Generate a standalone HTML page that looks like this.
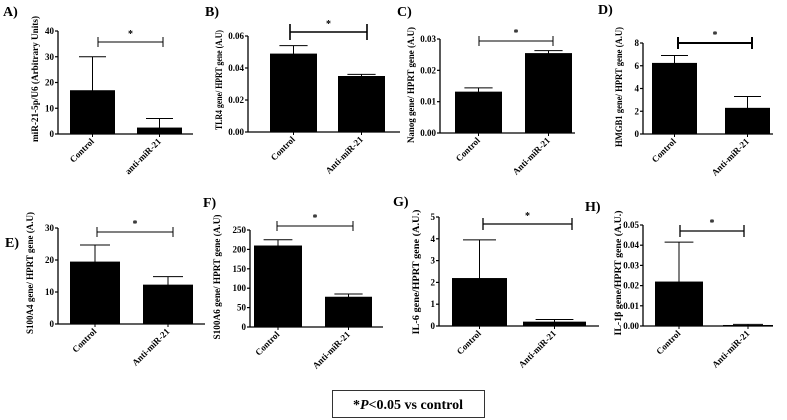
<!DOCTYPE html>
<html><head><meta charset="utf-8"><style>
body{margin:0;background:#fff;}
svg{display:block;font-family:"Liberation Serif",serif;font-weight:bold;}
</style></head><body>
<svg id="fig" width="787" height="420" viewBox="0 0 787 420"></svg>
<script>
// ---- data ----
const categoriesA = ["Control","anti-miR-21"];
const meansA = [17, 2.5];
const errsA = [30, 6];
const ticksA = ["0","10","20","30","40"];

const categoriesB = ["Control","Anti-miR-21"];
const meansB = [0.049, 0.035];
const errsB = [0.054, 0.036];
const ticksB = ["0.00","0.02","0.04","0.06"];

const categoriesC = ["Control","Anti-miR-21"];
const meansC = [0.0132, 0.0255];
const errsC = [0.0144, 0.0263];
const ticksC = ["0.00","0.01","0.02","0.03"];

const categoriesD = ["Control","Anti-miR-21"];
const meansD = [6.25, 2.3];
const errsD = [6.9, 3.3];
const ticksD = ["0","2","4","6","8"];

const categoriesE = ["Control","Anti-miR-21"];
const meansE = [19.5, 12.3];
const errsE = [24.7, 14.8];
const ticksE = ["0","10","20","30"];

const categoriesF = ["Control","Anti-miR-21"];
const meansF = [210, 78];
const errsF = [225, 85];
const ticksF = ["0","50","100","150","200","250"];

const categoriesG = ["Control","Anti-miR-21"];
const meansG = [2.2, 0.2];
const errsG = [3.95, 0.3];
const ticksG = ["0","1","2","3","4","5"];

const categoriesH = ["Control","Anti-miR-21"];
const meansH = [0.022, 0.0005];
const errsH = [0.0415, 0.0008];
const ticksH = ["0.00","0.01","0.02","0.03","0.04","0.05"];

// ---- layout (not data) ----
const panels = [
 {id:"a",label:"A)",lx:3,ly:16,cats:categoriesA,m:meansA,e:errsA,t:ticksA,ax:58,yTop:31,y0:134,xEnd:193,bars:[[70,115],[137,182]],br:[98,163,42,5,1],title:"miR-21-5p/U6 (Arbitrary Units)",tx:38,tc:79,tl:126},
 {id:"b",label:"B)",lx:205,ly:16,cats:categoriesB,m:meansB,e:errsB,t:ticksB,ax:248,yTop:36,y0:132,xEnd:400,bars:[[270,317],[338,385]],br:[290,367,32,8,1.6],title:"TLR4 gene/ HPRT gene (A.U)",tx:222,tc:80,tl:100},
 {id:"c",label:"C)",lx:397,ly:16,cats:categoriesC,m:meansC,e:errsC,t:ticksC,ax:440,yTop:39,y0:133,xEnd:575,bars:[[455,502],[525,572]],br:[479,553,41,5,1],title:"Nanog gene/ HPRT gene (A.U)",tx:414,tc:85,tl:116},
 {id:"d",label:"D)",lx:598,ly:14,cats:categoriesD,m:meansD,e:errsD,t:ticksD,ax:643,yTop:43,y0:134,xEnd:773,bars:[[652,697],[725,770]],br:[678,752,43,6,2],title:"HMGB1 gene/ HPRT gene (A.U)",tx:622,tc:87,tl:120},
 {id:"e",label:"E)",lx:5,ly:247,cats:categoriesE,m:meansE,e:errsE,t:ticksE,ax:58,yTop:228,y0:324,xEnd:205,bars:[[70,120],[143,193]],br:[97,173,232,5,1],title:"S100A4 gene/ HPRT gene (A.U)",tx:33,tc:273,tl:122},
 {id:"f",label:"F)",lx:203,ly:207,cats:categoriesF,m:meansF,e:errsF,t:ticksF,ax:250,yTop:230,y0:327,xEnd:383,bars:[[254,302],[325,372]],br:[277,353,226,5,1],title:"S100A6 gene/ HPRT gene (A.U)",tx:220,tc:277,tl:125},
 {id:"g",label:"G)",lx:393,ly:206,cats:categoriesG,m:meansG,e:errsG,t:ticksG,ax:439,yTop:217,y0:326,xEnd:599,bars:[[452,507],[523,586]],br:[483,572,224,6,1.3],title:"IL-6 gene/HPRT gene (A.U.)",tx:419,tc:272,tl:125},
 {id:"h",label:"H)",lx:585,ly:211,cats:categoriesH,m:meansH,e:errsH,t:ticksH,ax:643,yTop:225,y0:326,xEnd:773,bars:[[655,703],[723,773]],br:[680,744,231,6,1.3],title:"IL-1β gene/HPRT gene (A.U.)",tx:621,tc:273,tl:125}
];

const NS="http://www.w3.org/2000/svg";
const svg=document.getElementById('fig');
function mk(tag,attrs,parent,text){const el=document.createElementNS(NS,tag);for(const k in attrs)el.setAttribute(k,attrs[k]);if(text!==undefined)el.textContent=text;(parent||svg).appendChild(el);return el;}

panels.forEach(p=>{
  const g=mk('g',{});
  
  
  const maxV=parseFloat(p.t[p.t.length-1]);
  const yS=v=>p.y0-(v/maxV)*(p.y0-p.yTop);
  const lab=mk('text',{x:p.lx,y:p.ly,'font-size':14},g,p.label);
  
  
  const ya=mk('line',{x1:p.ax,y1:p.yTop,x2:p.ax,y2:p.y0,stroke:'#000','stroke-width':1.3},g);
  
  
  const xa=mk('line',{x1:p.ax,y1:p.y0,x2:p.xEnd,y2:p.y0,stroke:'#000','stroke-width':1.3},g);
  
  
  p.t.forEach(tl=>{
    const y=yS(parseFloat(tl));
    mk('line',{x1:p.ax-3,y1:y,x2:p.ax,y2:y,stroke:'#000','stroke-width':1.2},g);
    const tt=mk('text',{x:p.ax-4,y:y+3,'font-size':9,'text-anchor':'end'},g,tl);
    
    
  });
  const yt=mk('text',{x:p.tx,y:p.tc,'font-size':9,'text-anchor':'middle',textLength:p.tl,lengthAdjust:'spacingAndGlyphs',transform:`rotate(-90 ${p.tx} ${p.tc})`},g,p.title);
  
  
  p.cats.forEach((c,i)=>{
    const [x1,x2]=p.bars[i];const cx=(x1+x2)/2;
    const ey=yS(p.e[i]);
    const el=mk('line',{x1:cx,y1:ey,x2:cx,y2:p.y0,stroke:'#000','stroke-width':1},g);
    
    
    mk('line',{x1:cx-(x2-x1)*0.3,y1:ey,x2:cx+(x2-x1)*0.3,y2:ey,stroke:'#000','stroke-width':1},g);
    const by=yS(p.m[i]);
    const b=mk('rect',{x:x1,y:by,width:x2-x1,height:p.y0-by,fill:'#000'},g);
    
    
    mk('line',{x1:cx,y1:p.y0,x2:cx,y2:p.y0+3,stroke:'#000','stroke-width':1},g);
    const xl=mk('text',{x:cx+2,y:p.y0+8,'font-size':9,'text-anchor':'end',transform:`rotate(-45 ${cx+2} ${p.y0+8})`},g,c);
    
    
  });
  const [bx1,bx2,bby,bh,bw]=p.br;
  const br=mk('path',{d:`M${bx1},${bby-bh}V${bby+bh}M${bx1},${bby}H${bx2}M${bx2},${bby-bh}V${bby+bh}`,stroke:'#000','stroke-width':bw,fill:'none'},g);
  
  
  const st=mk('text',{x:(bx1+bx2)/2,y:bby-5,'font-size':10,'text-anchor':'middle'},g,'*');
  
  
});
const lg=mk('g',{});


mk('rect',{x:332.5,y:390.5,width:152,height:27,fill:'#fff',stroke:'#333','stroke-width':1},lg);
const lt=mk('text',{x:408,y:409,'font-size':14,'text-anchor':'middle'},lg);
lt.innerHTML='*<tspan font-style="italic">P</tspan>&lt;0.05 vs control';


</script>
</body></html>
